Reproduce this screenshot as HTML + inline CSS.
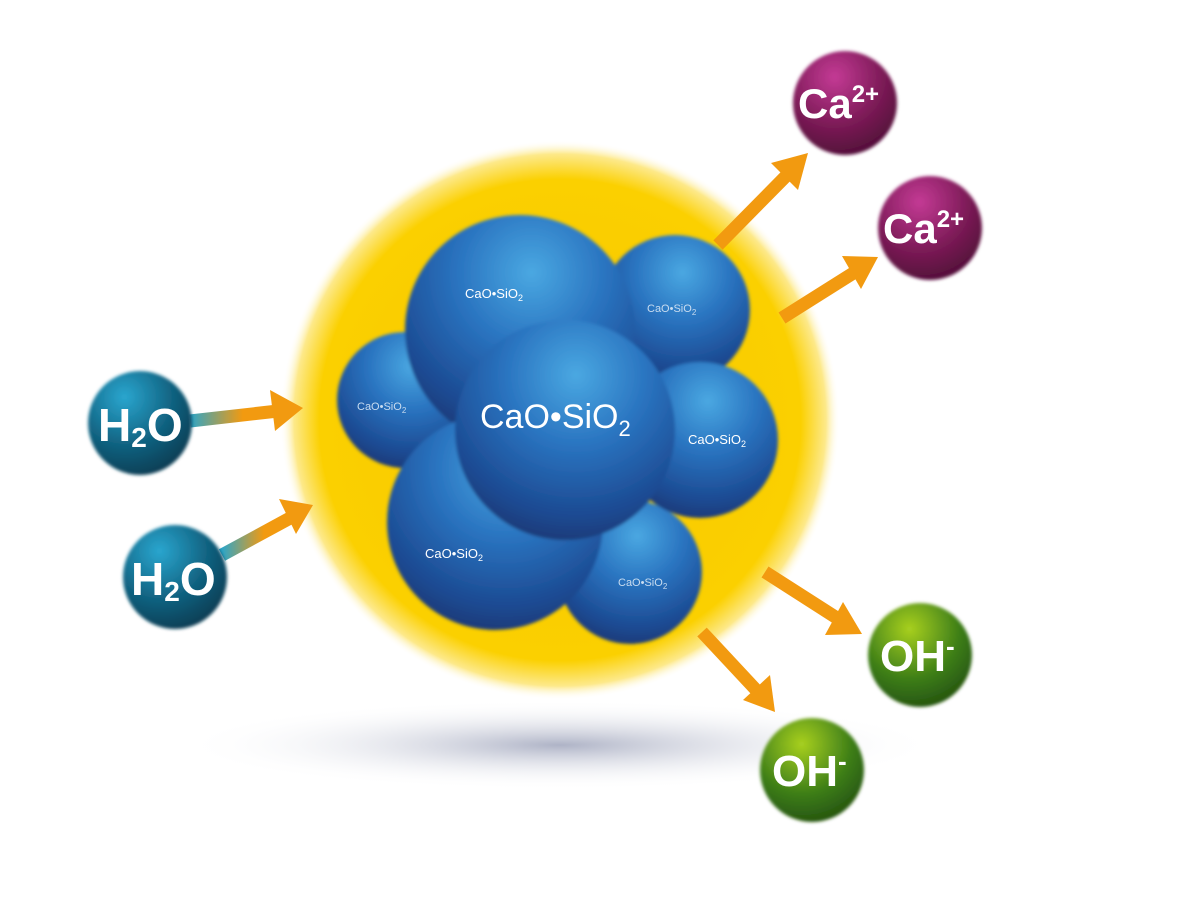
<!DOCTYPE html>
<html><head><meta charset="utf-8"><style>
html,body{margin:0;padding:0;background:#fff;width:1200px;height:900px;overflow:hidden}
text{font-family:"Liberation Sans",sans-serif;font-weight:bold}
</style></head><body>
<svg width="1200" height="900" viewBox="0 0 1200 900" xmlns="http://www.w3.org/2000/svg">
<defs>
<radialGradient id="glow" cx="50%" cy="50%" r="50%">
<stop offset="0" stop-color="#f7c600"/><stop offset="0.86" stop-color="#fbd000"/><stop offset="0.95" stop-color="#fde98a"/><stop offset="1" stop-color="#fff" stop-opacity="0"/></radialGradient>
<radialGradient id="shadow" cx="50%" cy="50%" r="50%">
<stop offset="0" stop-color="#9aa0b8" stop-opacity="0.8"/><stop offset="1" stop-color="#fff" stop-opacity="0"/></radialGradient>
<radialGradient id="blue" cx="55%" cy="25%" r="80%">
<stop offset="0" stop-color="#4aa8e2"/><stop offset="0.4" stop-color="#2a74c0"/><stop offset="0.8" stop-color="#1c4a92"/><stop offset="1" stop-color="#1a3570"/></radialGradient>
<radialGradient id="water" cx="35%" cy="25%" r="80%">
<stop offset="0" stop-color="#2aa6cf"/><stop offset="0.6" stop-color="#10607e"/><stop offset="1" stop-color="#0a3c52"/></radialGradient>
<radialGradient id="ca" cx="40%" cy="25%" r="80%">
<stop offset="0" stop-color="#c43a95"/><stop offset="0.6" stop-color="#7a1a55"/><stop offset="1" stop-color="#4e0e36"/></radialGradient>
<radialGradient id="oh" cx="40%" cy="25%" r="80%">
<stop offset="0" stop-color="#a8d020"/><stop offset="0.6" stop-color="#3d7e18"/><stop offset="1" stop-color="#23500e"/></radialGradient>
<linearGradient id="ag" x1="0" y1="0" x2="1" y2="0"><stop offset="0" stop-color="#2ea6c8"/><stop offset="0.6" stop-color="#f29a10"/></linearGradient>
<filter id="blur"><feGaussianBlur stdDeviation="1.5"/></filter>
</defs>
<ellipse cx="560" cy="745" rx="380" ry="45" fill="url(#shadow)"/>
<circle cx="560" cy="420" r="280" fill="url(#glow)"/>
<g filter="url(#blur)">
<circle cx="675" cy="310" r="75" fill="url(#blue)"/>
<circle cx="405" cy="400" r="68" fill="url(#blue)"/>
<circle cx="630" cy="572" r="72" fill="url(#blue)"/>
<circle cx="520" cy="330" r="115" fill="url(#blue)"/>
<circle cx="700" cy="440" r="78" fill="url(#blue)"/>
<circle cx="495" cy="522" r="108" fill="url(#blue)"/>
<circle cx="565" cy="430" r="110" fill="url(#blue)"/>
</g>
<g fill="#fff">
<text x="465" y="298" font-size="13" style="font-weight:normal">CaO•SiO<tspan font-size="9" dy="3">2</tspan></text>
<text x="647" y="312" font-size="11" fill="#c8dcf0" style="font-weight:normal">CaO•SiO<tspan font-size="8" dy="3">2</tspan></text>
<text x="357" y="410" font-size="11" fill="#c8dcf0" style="font-weight:normal">CaO•SiO<tspan font-size="8" dy="3">2</tspan></text>
<text x="688" y="444" font-size="13" style="font-weight:normal">CaO•SiO<tspan font-size="9" dy="3">2</tspan></text>
<text x="425" y="558" font-size="13" style="font-weight:normal">CaO•SiO<tspan font-size="9" dy="3">2</tspan></text>
<text x="618" y="586" font-size="11" fill="#c8dcf0" style="font-weight:normal">CaO•SiO<tspan font-size="8" dy="3">2</tspan></text>
<text x="480" y="428" font-size="34" style="font-weight:normal">CaO•SiO<tspan font-size="22" dy="8">2</tspan></text>
</g>
<g fill="none" stroke-width="13" stroke-linecap="butt">
<line x1="190" y1="421" x2="278" y2="411" stroke="url(#ag)"/>
<line x1="222" y1="555" x2="292" y2="517" stroke="url(#ag)"/>
<line x1="718" y1="245" x2="790" y2="172" stroke="#f29a10"/>
<line x1="782" y1="318" x2="855" y2="272" stroke="#f29a10"/>
<line x1="765" y1="572" x2="840" y2="620" stroke="#f29a10"/>
<line x1="702" y1="632" x2="758" y2="692" stroke="#f29a10"/>
</g>
<g fill="#f29a10">
<polygon points="303,408 270,390 275,431"/>
<polygon points="313,505 279,499 296,534"/>
<polygon points="808,153 771,163 798,190"/>
<polygon points="878,257 842,256 861,289"/>
<polygon points="862,634 843,602 825,635"/>
<polygon points="775,712 770,675 743,700"/>
</g>
<g filter="url(#blur)">
<circle cx="140" cy="423" r="52" fill="url(#water)"/>
<circle cx="175" cy="577" r="52" fill="url(#water)"/>
<circle cx="845" cy="103" r="52" fill="url(#ca)"/>
<circle cx="930" cy="228" r="52" fill="url(#ca)"/>
<circle cx="920" cy="655" r="52" fill="url(#oh)"/>
<circle cx="812" cy="770" r="52" fill="url(#oh)"/>
</g>
<g fill="#fff">
<text x="98" y="441" font-size="46">H<tspan font-size="28" dy="6">2</tspan><tspan dy="-6">O</tspan></text>
<text x="131" y="595" font-size="46">H<tspan font-size="28" dy="6">2</tspan><tspan dy="-6">O</tspan></text>
<text x="798" y="118" font-size="42">Ca<tspan font-size="24" dy="-16">2+</tspan></text>
<text x="883" y="243" font-size="42">Ca<tspan font-size="24" dy="-16">2+</tspan></text>
<text x="880" y="671" font-size="44">OH<tspan font-size="26" dy="-16">-</tspan></text>
<text x="772" y="786" font-size="44">OH<tspan font-size="26" dy="-16">-</tspan></text>
</g>
</svg>
</body></html>
